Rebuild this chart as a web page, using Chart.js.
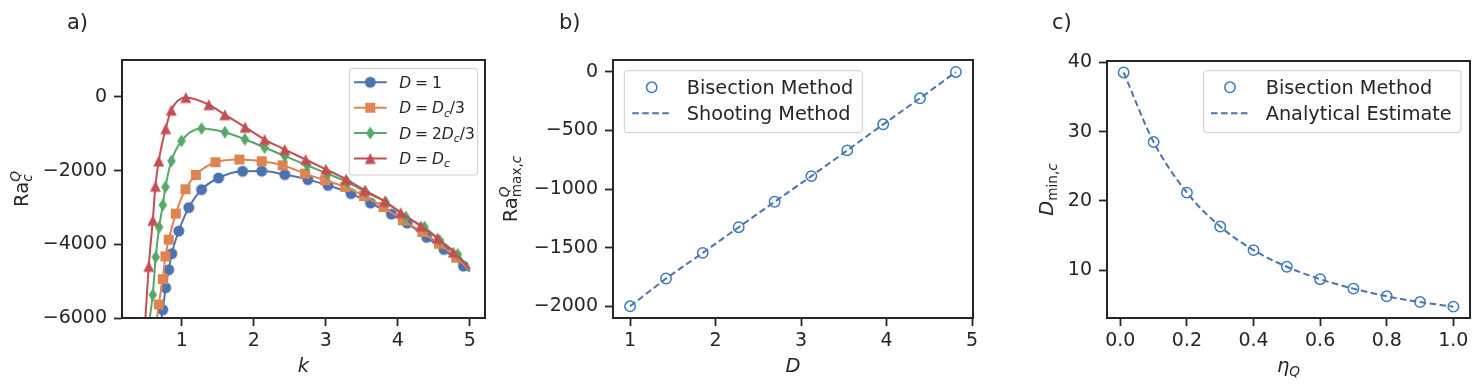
<!DOCTYPE html>
<html>
<head>
<meta charset="utf-8">
<script src="https://cdn.jsdelivr.net/npm/chart.js@4"></script>
<style>
  body { margin: 0; background: #fff; width: 1480px; height: 385px; position: relative; overflow: hidden; }
  canvas { position: absolute; top: 0; }
</style>
</head>
<body>
<canvas id="chartA" width="500" height="385" style="left:0"></canvas>
<canvas id="chartB" width="495" height="385" style="left:495px"></canvas>
<canvas id="chartC" width="490" height="385" style="left:990px"></canvas>
<script>
// a) Ra_c^Q against k, four values of D (first/last point = where the curve leaves the frame)
const kD1   = [0.717, 0.736, 0.777, 0.819, 0.861, 0.958, 1.097, 1.274, 1.51, 1.844, 2.11, 2.43, 2.75, 3.03, 3.35, 3.62, 3.91, 4.13, 4.40, 4.64, 4.91, 5.0];
const raD1  = [-6000, -5777, -5179, -4690, -4255, -3641, -3005, -2516, -2201, -2019, -2015, -2109, -2245, -2400, -2625, -2880, -3180, -3424, -3812, -4139, -4592, -4740];
const kDc3  = [0.655, 0.68, 0.736, 0.773, 0.819, 0.917, 1.051, 1.195, 1.469, 1.80, 2.11, 2.40, 2.71, 2.99, 3.27, 3.53, 3.80, 4.07, 4.34, 4.57, 4.81, 5.0];
const raDc3 = [-6000, -5633, -4946, -4329, -3875, -3168, -2508, -2120, -1774, -1701, -1747, -1856, -2082, -2264, -2445, -2690, -2989, -3351, -3668, -3984, -4364, -4700];
const k2Dc3  = [0.555, 0.597, 0.638, 0.686, 0.736, 0.773, 0.857, 0.996, 1.274, 1.598, 1.876, 2.15, 2.43, 2.74, 3.02, 3.30, 3.55, 3.83, 4.11, 4.37, 4.58, 4.83, 5.0];
const ra2Dc3 = [-6000, -5370, -4348, -3533, -2935, -2446, -1739, -1196, -859, -959, -1149, -1375, -1603, -1856, -2082, -2310, -2581, -2853, -3261, -3533, -3894, -4274, -4680];
const kDc   = [0.495, 0.541, 0.597, 0.634, 0.680, 0.777, 0.854, 1.056, 1.376, 1.598, 1.88, 2.15, 2.43, 2.72, 3.00, 3.28, 3.54, 3.82, 4.04, 4.32, 4.55, 4.77, 5.0];
const raDc  = [-6000, -4600, -3351, -2427, -1739, -864, -361, -16, -212, -484, -823, -1158, -1429, -1701, -1965, -2236, -2535, -2834, -3141, -3505, -3832, -4212, -4660];

// b) Ra_max,c^Q against D
const dVals  = [1, 1.42, 1.85, 2.27, 2.69, 3.12, 3.54, 3.96, 4.39, 4.81];
const raMax  = [-2000, -1763, -1544, -1325, -1108, -889, -669, -447, -225, 0];

// c) D_min,c against eta_Q
const etaQ = [0.01, 0.1, 0.2, 0.3, 0.4, 0.5, 0.6, 0.7, 0.8, 0.9, 1.0];
const dMin = [38.55, 28.5, 21.2, 16.3, 12.9, 10.5, 8.7, 7.34, 6.23, 5.4, 4.74];

// ticks
const ticksK   = [1, 2, 3, 4, 5];
const ticksRaA = [-6000, -4000, -2000, 0];
const ticksD   = [1, 2, 3, 4, 5];
const ticksRaB = [-2000, -1500, -1000, -500, 0];
const ticksEta = [0, 0.2, 0.4, 0.6, 0.8, 1.0];
const ticksDm  = [10, 20, 30, 40];

const FONT = '"DejaVu Sans", sans-serif';
const INK = '#262626';
const colors = ['#4c72b0', '#dd8452', '#55a868', '#c44e52'];
const circColor = '#3a7cc2';
const LABEL = 19.5;

Chart.defaults.font.family = FONT;
Chart.defaults.font.size = 19;
Chart.defaults.color = INK;

// marker images like matplotlib o, s, d, ^
function marker(shape, color) {
  const c = document.createElement('canvas');
  c.width = 16; c.height = 16;
  const g = c.getContext('2d');
  const m = 8;
  g.fillStyle = color;
  g.beginPath();
  if (shape === 'o') g.arc(m, m, 5.5, 0, Math.PI * 2);
  if (shape === 's') g.rect(m - 5, m - 5, 10, 10);
  if (shape === 'd') { g.moveTo(m, m - 6.5); g.lineTo(m + 4.3, m); g.lineTo(m, m + 6.5); g.lineTo(m - 4.3, m); g.closePath(); }
  if (shape === '^') { g.moveTo(m, m - 5.5); g.lineTo(m + 5.5, m + 5.5); g.lineTo(m - 5.5, m + 5.5); g.closePath(); }
  g.fill();
  return c;
}

// text with italic parts, sub and superscripts
function drawRich(ctx, parts, x, y, size, align) {
  let prevStart = 0, prevEnd = 0, total = 0;
  const items = parts.map(p => {
    const sz = p.s ? size * 0.7 : size;
    const font = (p.i ? 'italic ' : '') + sz + 'px ' + FONT;
    ctx.font = font;
    const w = ctx.measureText(p.t).width;
    const start = p.stack ? prevStart : prevEnd;
    const dy = p.s === 'sub' ? size * 0.22 : p.s === 'sup' ? -size * 0.42 : 0;
    prevStart = start; prevEnd = start + w;
    total = Math.max(total, prevEnd);
    return { t: p.t, font, x: start, dy };
  });
  const x0 = align === 'center' ? x - total / 2 : x;
  ctx.textAlign = 'left';
  ctx.textBaseline = 'alphabetic';
  items.forEach(it => {
    ctx.font = it.font;
    ctx.fillText(it.t, x0 + it.x, y + it.dy);
  });
}

function legendBox(ctx, x, y, w, h) {
  ctx.beginPath();
  ctx.roundRect(x, y, w, h, 3);
  ctx.fillStyle = 'rgba(255,255,255,0.8)';
  ctx.fill();
  ctx.strokeStyle = '#cccccc';
  ctx.lineWidth = 1;
  ctx.stroke();
}

const EQ = '\u2005=\u2005';
const legendLabelsA = [
  [{ t: 'D', i: 1 }, { t: EQ + '1' }],
  [{ t: 'D', i: 1 }, { t: EQ }, { t: 'D', i: 1 }, { t: 'c', i: 1, s: 'sub' }, { t: '/3' }],
  [{ t: 'D', i: 1 }, { t: EQ + '2' }, { t: 'D', i: 1 }, { t: 'c', i: 1, s: 'sub' }, { t: '/3' }],
  [{ t: 'D', i: 1 }, { t: EQ }, { t: 'D', i: 1 }, { t: 'c', i: 1, s: 'sub' }]
];

function legendA(ctx, chart) {
  legendBox(ctx, 349.3, 68.3, 128.4, 106.7);
  chart.data.datasets.forEach((ds, i) => {
    const y = 82.3 + i * 25.4;
    ctx.strokeStyle = ds.borderColor;
    ctx.lineWidth = 2;
    ctx.beginPath(); ctx.moveTo(354, y); ctx.lineTo(386.7, y); ctx.stroke();
    ctx.drawImage(ds.pointStyle, 370.3 - 8, y - 8);
    ctx.fillStyle = INK;
    drawRich(ctx, legendLabelsA[i], 399.3, y + 5.5, 15.5, 'left');
  });
}

function legendDash(labels) {
  return (ctx, chart, bx, bw, cx, lx1, lx2, tx) => {
    legendBox(ctx, bx, 70.7, bw, 62);
    ctx.strokeStyle = circColor; ctx.lineWidth = 1.5;
    ctx.beginPath(); ctx.arc(cx, 87.3, 5.2, 0, Math.PI * 2); ctx.stroke();
    ctx.strokeStyle = colors[0]; ctx.lineWidth = 2; ctx.setLineDash([6.5, 3.5]);
    ctx.beginPath(); ctx.moveTo(lx1, 113.3); ctx.lineTo(lx2, 113.3); ctx.stroke();
    ctx.setLineDash([]);
    ctx.fillStyle = INK; ctx.font = '19.3px ' + FONT; ctx.textAlign = 'left'; ctx.textBaseline = 'alphabetic';
    ctx.fillText(labels[0], tx, 87.3 + 7);
    ctx.fillText(labels[1], tx, 113.3 + 7);
  };
}
const legendB = legendDash(['Bisection Method', 'Shooting Method']);
const legendC = legendDash(['Bisection Method', 'Analytical Estimate']);

const decorCfg = {
  chartA: {
    panel: 'a)', panelX: 67, ylabelX: 28,
    xlabel: [{ t: 'k', i: 1 }],
    ylabel: [{ t: 'Ra' }, { t: 'Q', i: 1, s: 'sup' }, { t: 'c', i: 1, s: 'sub', stack: 1 }],
    legend: (ctx, ch) => legendA(ctx, ch)
  },
  chartB: {
    panel: 'b)', panelX: 64, ylabelX: 22,
    xlabel: [{ t: 'D', i: 1 }],
    ylabel: [{ t: 'Ra' }, { t: 'Q', i: 1, s: 'sup' }, { t: 'max,', s: 'sub', stack: 1 }, { t: 'c', i: 1, s: 'sub' }],
    legend: (ctx, ch) => legendB(ctx, ch, 129.3, 238, 156.7, 137.3, 176.7, 191.7)
  },
  chartC: {
    panel: 'c)', panelX: 62, ylabelX: 63,
    xlabel: [{ t: 'η', i: 1 }, { t: 'Q', i: 1, s: 'sub' }],
    ylabel: [{ t: 'D', i: 1 }, { t: 'min,', s: 'sub' }, { t: 'c', i: 1, s: 'sub' }],
    legend: (ctx, ch) => legendC(ctx, ch, 213.7, 257.3, 240, 221, 260, 275.7)
  }
};

const decor = {
  id: 'decor',
  afterDraw(chart) {
    const o = decorCfg[chart.canvas.id];
    const ctx = chart.ctx, a = chart.chartArea;
    ctx.save();
    ctx.strokeStyle = INK;
    ctx.lineWidth = 2;
    ctx.strokeRect(a.left, a.top, a.right - a.left, a.bottom - a.top);
    ctx.fillStyle = INK;
    drawRich(ctx, o.xlabel, (a.left + a.right) / 2, 372, LABEL, 'center');
    ctx.save();
    ctx.translate(o.ylabelX, (a.top + a.bottom) / 2);
    ctx.rotate(-Math.PI / 2);
    drawRich(ctx, o.ylabel, 0, 0, LABEL, 'center');
    ctx.restore();
    ctx.font = '21px ' + FONT;
    ctx.textAlign = 'left';
    ctx.fillText(o.panel, o.panelX, 29);
    o.legend(ctx, chart);
    ctx.restore();
  }
};

const minus = v => String(v).replace('-', '\u2212');

function scales(o) {
  const grid = { drawOnChartArea: false, tickLength: 8, tickWidth: 1.8, tickColor: INK };
  return {
    x: {
      type: 'linear', min: o.xmin, max: o.xmax,
      afterBuildTicks: s => { s.ticks = o.xticks.map(v => ({ value: v })); },
      afterFit: s => { s.height = 385 - o.bottom; },
      grid, border: { color: INK, width: 2 },
      ticks: { padding: 4, maxRotation: 0, autoSkip: false, callback: o.xfmt || minus }
    },
    y: {
      type: 'linear', min: o.ymin, max: o.ymax,
      afterBuildTicks: s => { s.ticks = o.yticks.map(v => ({ value: v })); },
      afterFit: s => { s.width = o.left; },
      grid, border: { color: INK, width: 2 },
      ticks: { padding: 7, autoSkip: false, callback: minus }
    }
  };
}

function baseOptions(o) {
  return {
    responsive: false,
    animation: false,
    events: [],
    layout: { padding: { top: o.top, right: o.right, left: 0, bottom: 0 } },
    plugins: { legend: { display: false }, tooltip: { enabled: false } },
    scales: scales(o)
  };
}

const pts = (xs, ys) => xs.map((x, i) => ({ x, y: ys[i] }));
const edgeless = c => (c.dataIndex === 0 || c.dataIndex === c.dataset.data.length - 1) ? 0 : 5;

const seriesA = [
  { label: 'D = 1', k: kD1, ra: raD1, m: 'o' },
  { label: 'D = Dc/3', k: kDc3, ra: raDc3, m: 's' },
  { label: 'D = 2Dc/3', k: k2Dc3, ra: ra2Dc3, m: 'd' },
  { label: 'D = Dc', k: kDc, ra: raDc, m: '^' }
];

new Chart(document.getElementById('chartA'), {
  type: 'line',
  data: {
    datasets: seriesA.map((s, i) => ({
      label: s.label,
      data: pts(s.k, s.ra),
      borderColor: colors[i],
      backgroundColor: colors[i],
      borderWidth: 2,
      pointStyle: marker(s.m, colors[i]),
      pointRadius: edgeless,
      cubicInterpolationMode: 'monotone',
      order: 4 - i
    }))
  },
  options: baseOptions({ xmin: 0.17, xmax: 5.21, xticks: ticksK, ymin: -6000, ymax: 1000, yticks: ticksRaA,
                         top: 60, right: 15, left: 122, bottom: 318 }),
  plugins: [decor]
});

new Chart(document.getElementById('chartB'), {
  type: 'line',
  data: {
    datasets: [
      { label: 'Shooting Method', data: pts(dVals, raMax), borderColor: colors[0], borderWidth: 2,
        borderDash: [6.5, 3.5], pointRadius: 0, tension: 0 },
      { label: 'Bisection Method', data: pts(dVals, raMax), showLine: false, pointStyle: 'circle',
        pointRadius: 5.2, pointBorderWidth: 1.5, borderColor: circColor, backgroundColor: 'rgba(0,0,0,0)' }
    ]
  },
  options: baseOptions({ xmin: 0.8, xmax: 5.01, xticks: ticksD, ymin: -2100, ymax: 102, yticks: ticksRaB,
                         top: 60, right: 17, left: 118, bottom: 318 }),
  plugins: [decor]
});

new Chart(document.getElementById('chartC'), {
  type: 'line',
  data: {
    datasets: [
      { label: 'Analytical Estimate', data: pts(etaQ, dMin), borderColor: colors[0], borderWidth: 2,
        borderDash: [6.5, 3.5], pointRadius: 0, cubicInterpolationMode: 'monotone' },
      { label: 'Bisection Method', data: pts(etaQ, dMin), showLine: false, pointStyle: 'circle',
        pointRadius: 5.2, pointBorderWidth: 1.5, borderColor: circColor, backgroundColor: 'rgba(0,0,0,0)' }
    ]
  },
  options: baseOptions({ xmin: -0.04, xmax: 1.05, xticks: ticksEta, xfmt: v => v.toFixed(1),
                         ymin: 3.1, ymax: 40.2, yticks: ticksDm,
                         top: 61, right: 10, left: 117, bottom: 318 }),
  plugins: [decor]
});
</script>
</body>
</html>
